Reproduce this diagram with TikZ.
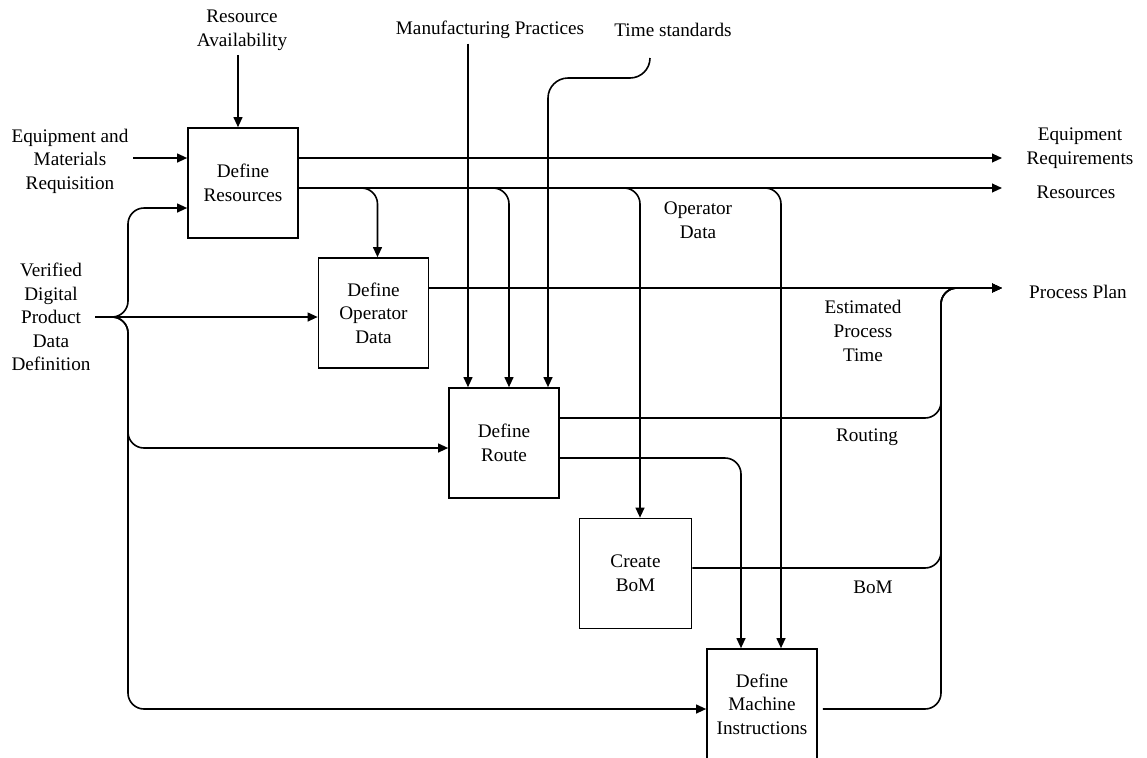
\documentclass[tikz,border=0pt]{standalone}
\usepackage{fontspec}
\setmainfont{Liberation Serif}
\usepackage{tikz}
\usetikzlibrary{arrows.meta}

\begin{document}
\begin{tikzpicture}[x=0.5pt,y=-0.5pt,line width=0.8pt,
  >={Triangle[length=5pt,width=4.4pt]},
  txt/.style={align=center,inner sep=2pt,font=\fontsize{9.6}{11.8}\selectfont},
  proc/.style={draw,txt,minimum width=55pt,minimum height=55pt},
  flow/.style={->,rounded corners=8pt}]
  \useasboundingbox (0,0) rectangle (1147,757);
  % activity boxes
  \node[proc] (res) at (243,183) {Define\\Resources};
  \node[proc] (opd) at (373.5,313) {Define\\Operator\\Data};
  \node[proc] (route) at (504,443) {Define\\Route};
  \node[proc,minimum width=56pt] (bom) at (635.5,573.5) {Create\\BoM};
  \node[proc] (mach) at (762,704) {Define\\Machine\\Instructions};
  % inputs, controls and outputs
  \node[txt] (ra) at (242,30) {Resource\\Availability};
  \node[txt] (mp) at (490,30) {Manufacturing Practices};
  \node[txt] (ts) at (673,30) {Time standards};
  \node[txt] (emr) at (70,161) {Equipment and\\Materials\\Requisition};
  \node[txt] (vd) at (51,317) {Verified\\Digital\\Product\\Data\\Definition};
  \node[txt] (eqr) at (1080,148) {Equipment\\Requirements};
  \node[txt] (rsc) at (1076,192) {Resources};
  \node[txt] (pp) at (1078,292) {Process Plan};
  \node[txt] (opl) at (698,220) {Operator\\Data};
  \node[txt] (ept) at (863,331) {Estimated\\Process\\Time};
  \node[txt] (rtl) at (867,437) {Routing};
  \node[txt] (bml) at (873,587) {BoM};
  % ports
  \coordinate (restop) at ([xshift=-2.5pt]res.north);
  \coordinate (resinA) at ([yshift=12.5pt]res.west);
  \coordinate (resinB) at ([yshift=-12.5pt]res.west);
  \coordinate (resoutA) at ([yshift=12.5pt]res.east);
  \coordinate (resoutB) at ([yshift=-2.5pt]res.east);
  \coordinate (opdtop) at ([xshift=2pt]opd.north);
  \coordinate (opdout) at ([yshift=12.5pt]opd.east);
  \coordinate (rttopA) at ([xshift=-18pt]route.north);
  \coordinate (rttopB) at ([xshift=2.5pt]route.north);
  \coordinate (rttopC) at ([xshift=22pt]route.north);
  \coordinate (rtin) at ([yshift=-2.5pt]route.west);
  \coordinate (rtoutA) at ([yshift=12.5pt]route.east);
  \coordinate (rtoutB) at ([yshift=-7.5pt]route.east);
  \coordinate (bomtop) at ([xshift=2.25pt]bom.north);
  \coordinate (bomout) at ([yshift=2.75pt]bom.east);
  \coordinate (mchtopA) at ([xshift=-10.5pt]mach.north);
  \coordinate (mchtopB) at ([xshift=9.5pt]mach.north);
  \coordinate (mchin) at ([yshift=-2.5pt]mach.west);
  \coordinate (mchout) at ([xshift=2.5pt,yshift=-2.5pt]mach.east);
  \coordinate (lbus) at (128,317);
  \coordinate (bus) at (941,288);
  \coordinate (tipx) at (1002,0);
  \coordinate (tstop) at (650,58);
  % arrows
  \draw[->] (ra.south -| restop) -- (restop);
  \draw[->] (emr.east |- resinA) -- (resinA);
  \draw[flow] (vd.east) -| (lbus |- resinB) -- (resinB);
  \draw[->] (vd.east) -- (vd.east -| opd.west);
  \draw[flow] (vd.east) -| (lbus |- rtin) -- (rtin);
  \draw[flow] (vd.east) -| (lbus |- mchin) -- (mchin);
  \draw[->] (resoutA) -- (resoutA -| tipx);
  \draw[->] (resoutB) -- (resoutB -| tipx);
  \draw[flow] (resoutB) -| (opdtop);
  \draw[flow] (resoutB) -| (rttopB);
  \draw[flow] (resoutB) -| (bomtop);
  \draw[flow] (resoutB) -| (mchtopB);
  \draw[->] (mp.south -| rttopA) -- (rttopA);
  \draw[->,rounded corners=10pt] (tstop) |- (rttopC |- 0,78) -- (rttopC);
  \draw[->] (opdout) -- (opdout -| tipx);
  \draw[flow] (rtoutA) -| (bus) -- (bus -| tipx);
  \draw[flow] (rtoutB) -| (mchtopA);
  \draw[flow] (bomout) -| (bus) -- (bus -| tipx);
  \draw[flow] (mchout) -| (bus) -- (bus -| tipx);
\end{tikzpicture}
\end{document}
